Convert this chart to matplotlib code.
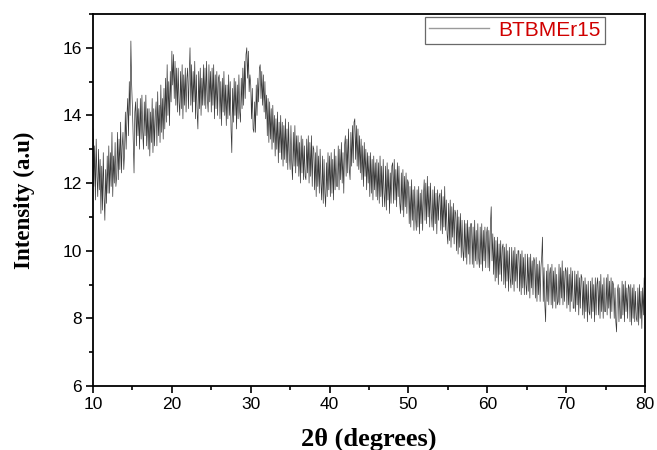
import numpy as np
import matplotlib
matplotlib.use("Agg")
import matplotlib.pyplot as plt
from matplotlib.ticker import MultipleLocator

# XRD pattern, 0.1 degree steps from 10 to 80
two_theta = np.round(np.arange(10.0, 80.001, 0.1), 1)

intensity = [
    13.6, 11.9, 13.1, 11.5, 13.3, 12.2, 11.6, 13.0, 11.8, 12.7,   # 10
    11.1, 12.5, 11.2, 12.9, 11.6, 10.9, 12.4, 11.4, 12.8, 11.7,   # 11
    13.1, 11.7, 12.9, 11.9, 13.5, 11.6, 12.8, 12.0, 13.2, 11.9,   # 12
    12.2, 13.5, 12.1, 13.3, 12.4, 13.8, 12.3, 13.1, 13.5, 12.4,   # 13
    12.9, 14.1, 13.0, 14.0, 14.5, 13.4, 15.0, 14.0, 16.2, 14.9,   # 14
    14.2, 13.2, 12.3, 14.1, 14.4, 13.1, 14.5, 13.4, 14.2, 13.0,   # 15
    14.5, 13.3, 14.6, 13.5, 13.0, 14.4, 13.4, 14.6, 13.1, 14.2,   # 16
    13.0, 14.2, 12.8, 14.1, 13.2, 14.5, 12.9, 14.2, 13.1, 14.0,   # 17
    14.4, 13.1, 14.7, 13.4, 14.3, 13.2, 14.9, 13.5, 14.5, 13.3,   # 18
    14.8, 13.6, 15.1, 13.8, 15.5, 14.0, 15.0, 13.7, 15.3, 14.4,   # 19
    15.9, 14.9, 15.8, 14.5, 15.6, 14.3, 15.4, 14.1, 15.4, 14.4,   # 20
    14.0, 15.3, 14.2, 15.5, 13.9, 15.2, 14.3, 15.4, 14.1, 15.1,   # 21
    15.4, 14.2, 15.2, 16.0, 14.3, 15.5, 14.1, 15.3, 14.4, 15.6,   # 22
    13.9, 15.2, 14.1, 13.6, 15.3, 14.2, 15.4, 14.0, 15.1, 14.3,   # 23
    15.5, 14.3, 15.4, 14.2, 15.6, 14.5, 14.1, 15.5, 14.4, 15.3,   # 24
    14.1, 15.4, 14.3, 15.5, 13.9, 15.2, 14.2, 15.3, 14.0, 15.1,   # 25
    15.2, 13.9, 15.0, 13.7, 15.1, 14.1, 15.3, 14.0, 14.9, 13.7,   # 26
    14.9, 13.9, 15.2, 14.0, 15.0, 13.6, 12.9, 14.8, 13.8, 15.1,   # 27
    14.0, 15.0, 13.6, 14.9, 13.9, 15.2, 14.1, 13.8, 15.1, 14.2,   # 28
    15.4, 14.3, 15.6, 14.5, 15.8, 16.0, 15.1, 15.9, 14.7, 15.2,   # 29
    14.9, 13.9, 14.8, 13.6, 13.5, 14.4, 13.5, 14.9, 14.0, 15.1,   # 30
    14.4, 15.4, 15.5, 14.5, 15.3, 14.3, 15.2, 14.1, 15.0, 13.9,   # 31
    14.6, 13.4, 14.5, 13.2, 14.4, 13.3, 14.2, 13.0, 14.3, 13.2,   # 32
    14.0, 12.8, 13.9, 13.0, 14.1, 12.6, 13.8, 12.9, 14.0, 12.7,   # 33
    13.8, 12.5, 13.7, 12.7, 13.9, 12.6, 13.6, 12.4, 13.8, 12.8,   # 34
    12.4, 13.7, 12.6, 12.1, 13.5, 12.5, 13.7, 12.3, 13.4, 12.5,   # 35
    13.4, 12.2, 13.2, 12.0, 13.4, 12.3, 13.3, 12.1, 13.1, 12.2,   # 36
    12.1, 13.3, 12.3, 13.4, 12.0, 13.2, 12.2, 13.4, 11.9, 13.1,   # 37
    13.0, 11.8, 12.9, 11.6, 13.1, 11.9, 12.8, 11.7, 13.0, 12.0,   # 38
    11.5, 12.8, 11.4, 12.7, 11.7, 11.3, 12.6, 11.6, 12.9, 11.8,   # 39
    12.8, 11.6, 12.9, 11.7, 12.7, 11.5, 13.0, 11.8, 12.8, 11.9,   # 40
    11.9, 13.1, 11.8, 13.0, 12.1, 13.2, 12.0, 12.9, 11.7, 13.1,   # 41
    13.4, 12.2, 13.3, 12.3, 13.6, 12.4, 12.1, 13.5, 12.5, 13.7,   # 42
    12.6, 13.8, 13.9, 12.7, 13.7, 12.5, 13.6, 12.4, 13.4, 12.3,   # 43
    13.3, 12.1, 13.1, 11.9, 13.2, 12.2, 13.0, 11.8, 12.9, 12.0,   # 44
    12.8, 11.6, 12.9, 11.7, 12.7, 11.5, 12.8, 11.8, 12.6, 11.6,   # 45
    12.7, 11.5, 12.6, 11.4, 12.8, 11.6, 12.5, 11.3, 12.7, 11.7,   # 46
    11.3, 12.5, 11.2, 12.6, 11.5, 12.4, 11.1, 12.3, 11.4, 12.5,   # 47
    12.6, 11.4, 12.7, 11.5, 12.4, 11.3, 12.6, 11.6, 12.5, 11.4,   # 48
    11.1, 12.3, 11.2, 12.4, 11.0, 12.2, 11.3, 12.3, 11.1, 12.1,   # 49
    12.0, 10.8, 11.9, 10.7, 12.1, 10.9, 11.8, 10.6, 11.9, 11.0,   # 50
    10.6, 11.8, 10.7, 11.9, 10.5, 11.7, 10.8, 11.8, 10.6, 11.6,   # 51
    12.1, 10.9, 12.0, 10.8, 12.2, 11.0, 11.9, 10.7, 12.0, 11.1,   # 52
    10.7, 11.8, 10.6, 11.9, 10.8, 11.7, 10.5, 11.8, 10.9, 11.6,   # 53
    11.7, 10.6, 11.8, 10.5, 11.6, 10.7, 11.9, 10.6, 11.5, 10.5,   # 54
    10.2, 11.4, 10.3, 11.5, 10.1, 11.3, 10.4, 11.4, 10.2, 11.2,   # 55
    11.1, 10.0, 11.2, 9.9, 11.0, 10.1, 11.1, 9.8, 10.9, 10.0,     # 56
    9.7, 10.9, 9.8, 10.8, 9.6, 10.9, 9.9, 10.7, 9.6, 10.8,        # 57
    10.8, 9.6, 10.7, 9.5, 10.9, 9.7, 10.6, 9.6, 10.8, 9.8,        # 58
    9.5, 10.7, 9.6, 10.8, 9.4, 10.6, 9.7, 10.7, 9.5, 10.5,        # 59
    10.7, 9.5, 10.6, 9.4, 10.8, 11.3, 9.7, 10.5, 9.3, 10.4,       # 60
    9.1, 10.3, 9.2, 10.4, 9.0, 10.2, 9.3, 10.3, 9.1, 10.1,        # 61
    10.2, 9.0, 10.1, 8.9, 10.2, 9.1, 10.0, 8.8, 10.1, 9.2,        # 62
    8.9, 10.1, 9.0, 10.0, 8.8, 10.1, 9.1, 9.9, 8.9, 10.0,         # 63
    10.0, 8.8, 9.9, 8.7, 10.0, 8.9, 9.8, 8.7, 9.9, 9.0,           # 64
    8.7, 9.9, 8.8, 9.8, 8.6, 9.9, 8.9, 9.7, 8.7, 9.8,             # 65
    9.7, 8.6, 9.8, 8.5, 9.6, 8.7, 9.7, 8.5, 9.5, 9.8,             # 66
    10.4, 8.5, 9.5, 8.4, 7.9, 9.4, 8.5, 9.6, 8.4, 9.3,            # 67
    9.5, 8.4, 9.6, 8.3, 9.4, 8.5, 9.5, 8.3, 9.3, 8.4,             # 68
    8.5, 9.6, 8.4, 9.5, 8.6, 9.7, 8.4, 9.4, 8.5, 9.5,             # 69
    9.4, 8.3, 9.5, 8.4, 9.3, 8.2, 9.5, 8.5, 9.4, 8.3,             # 70
    8.3, 9.4, 8.2, 9.3, 8.4, 9.4, 8.1, 9.2, 8.3, 9.3,             # 71
    9.2, 8.1, 9.1, 8.0, 9.2, 8.2, 9.0, 7.9, 9.1, 8.2,             # 72
    8.1, 9.1, 8.0, 9.2, 8.2, 9.0, 7.9, 9.2, 8.1, 9.0,             # 73
    9.2, 8.1, 9.1, 8.0, 9.3, 8.2, 9.0, 8.0, 9.2, 8.2,             # 74
    8.2, 9.2, 8.1, 9.3, 8.3, 9.1, 8.0, 9.2, 8.2, 9.1,             # 75
    9.0, 8.0, 8.9, 7.9, 7.6, 8.8, 9.0, 7.9, 8.9, 8.0,             # 76
    8.0, 9.1, 8.1, 9.0, 7.9, 9.1, 8.2, 8.9, 8.0, 9.0,             # 77
    8.9, 7.9, 9.0, 7.8, 8.9, 8.0, 9.0, 7.9, 8.8, 8.0,             # 78
    7.9, 8.9, 7.8, 9.0, 8.0, 8.8, 7.7, 8.9, 8.1, 9.2,             # 79
    9.0,                                                          # 80
]

sample_name = "BTBMEr15"

fig = plt.figure(figsize=(6.57, 4.5), dpi=100)
ax = fig.add_axes([0.1416, 0.1422, 0.8401, 0.8268])

ax.plot(two_theta, intensity, color="#222222", lw=0.5, alpha=0.9, label=sample_name)

ax.set_xlim(10, 80)
ax.set_ylim(6, 17)
ax.xaxis.set_major_locator(MultipleLocator(10))
ax.xaxis.set_minor_locator(MultipleLocator(5))
ax.set_yticks([6, 8, 10, 12, 14, 16])
ax.yaxis.set_minor_locator(MultipleLocator(1))

ax.tick_params(which="both", direction="out", top=False, right=False, width=1.2,
               labelsize=12.5, colors="black")
ax.tick_params(which="major", length=5, pad=3)
ax.tick_params(which="minor", length=3)
for lab in ax.get_xticklabels() + ax.get_yticklabels():
    lab.set_fontfamily("Liberation Sans")
for sp in ax.spines.values():
    sp.set_linewidth(1.3)

ax.set_xlabel("2θ (degrees)", fontfamily="Liberation Serif", fontweight="bold",
              fontsize=19, labelpad=11)
ax.set_ylabel("Intensity (a.u)", fontfamily="Liberation Serif", fontweight="bold",
              fontsize=16.5, labelpad=20)

leg = ax.legend(loc="upper right", bbox_to_anchor=(0.928, 0.993), fancybox=False,
                frameon=True, edgecolor="#444444", handlelength=2.9,
                borderpad=0.2, handletextpad=0.45, borderaxespad=0.0,
                prop={"family": "Liberation Sans", "size": 15})
leg.get_frame().set_linewidth(0.9)
leg.get_lines()[0].set_color("#9a9a9a")
leg.get_lines()[0].set_linewidth(1.0)
leg.get_lines()[0].set_alpha(1.0)
for t in leg.get_texts():
    t.set_color("#d00000")

fig.savefig("out.png", dpi=100)
